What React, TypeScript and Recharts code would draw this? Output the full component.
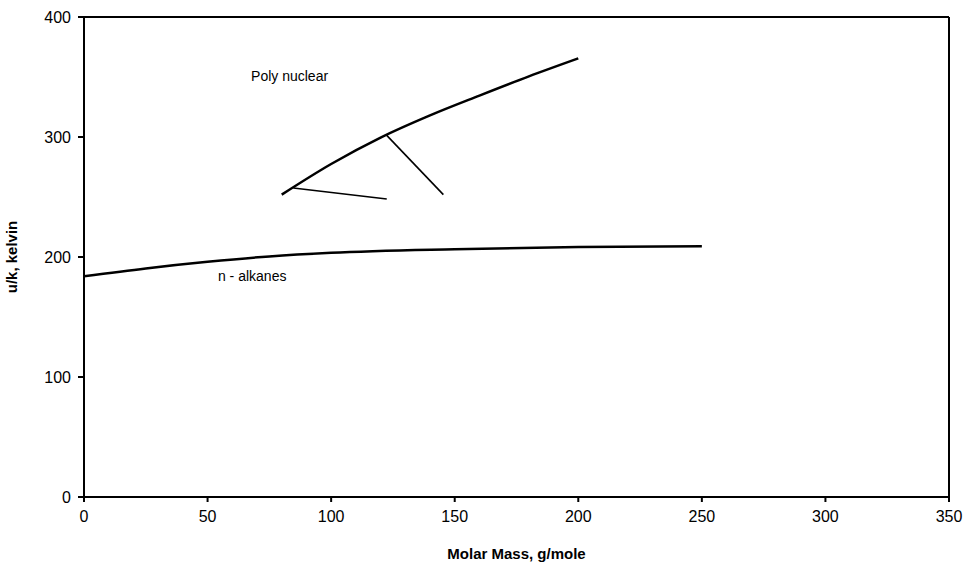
import { LineChart, Line, XAxis, YAxis, ReferenceLine, ReferenceDot } from 'recharts'

const alkaneMass = [0, 25, 50, 75, 100, 150, 200, 250]
const alkaneUk = [184, 190.5, 196, 200.5, 203.5, 206.5, 208.3, 209]

const polyMass = [80, 100, 120, 140, 160, 180, 200]
const polyUk = [252, 277.5, 299.5, 318, 334.5, 350.5, 365.5]

const branchAMass = [84.7, 122.5]
const branchAUk = [257.5, 248.3]

const branchBMass = [122.4, 145.4]
const branchBUk = [301.6, 252]

const xTicks = [0, 50, 100, 150, 200, 250, 300, 350]
const yTicks = [0, 100, 200, 300, 400]

const toPoints = (xs: number[], ys: number[]) => xs.map((m, i) => ({ m, u: ys[i] }))

const alkanes = toPoints(alkaneMass, alkaneUk)
const poly = toPoints(polyMass, polyUk)
const branchA = toPoints(branchAMass, branchAUk)
const branchB = toPoints(branchBMass, branchBUk)

const font = 'Liberation Sans, Arial, sans-serif'
const tick = { fontSize: 16, fill: '#000', fontFamily: font }

export default function App() {
  return (
    <div style={{ position: 'absolute', left: 0, top: 0, background: '#fff' }}>
      <LineChart width={969} height={569} margin={{ top: 17, right: 20, bottom: 0, left: 0 }}>
        <XAxis
          type="number"
          dataKey="m"
          domain={[0, 350]}
          ticks={xTicks}
          allowDataOverflow
          height={72}
          tick={tick}
          tickSize={5}
          tickMargin={9}
          stroke="#000"
          strokeWidth={2}
          label={{ value: 'Molar Mass, g/mole', position: 'insideBottom', offset: 10, style: { fontSize: 15, fontWeight: 'bold', fill: '#000', fontFamily: font } }}
        />
        <YAxis
          type="number"
          domain={[0, 400]}
          ticks={yTicks}
          width={84}
          tick={tick}
          tickSize={6}
          tickMargin={7}
          stroke="#000"
          strokeWidth={2}
          label={{ value: 'u/k, kelvin', angle: -90, position: 'insideLeft', offset: 12, style: { fontSize: 15, fontWeight: 'bold', fill: '#000', fontFamily: font, textAnchor: 'middle' } }}
        />
        <ReferenceLine y={400} stroke="#000" strokeWidth={2} />
        <ReferenceLine x={350} stroke="#000" strokeWidth={2} />
        <Line data={alkanes} dataKey="u" type="monotone" stroke="#000" strokeWidth={2.5} dot={false} isAnimationActive={false} />
        <Line data={poly} dataKey="u" type="monotone" stroke="#000" strokeWidth={2.5} dot={false} isAnimationActive={false} />
        <Line data={branchA} dataKey="u" type="linear" stroke="#000" strokeWidth={1.6} dot={false} isAnimationActive={false} />
        <Line data={branchB} dataKey="u" type="linear" stroke="#000" strokeWidth={1.6} dot={false} isAnimationActive={false} />
        <ReferenceDot x={67.6} y={351} r={0} stroke="none" label={{ value: 'Poly nuclear', position: 'right', offset: 0, style: { fontSize: 14, fill: '#000', fontFamily: font } }} />
        <ReferenceDot x={54.2} y={184} r={0} stroke="none" label={{ value: 'n - alkanes', position: 'right', offset: 0, style: { fontSize: 14, fill: '#000', fontFamily: font } }} />
      </LineChart>
    </div>
  )
}
